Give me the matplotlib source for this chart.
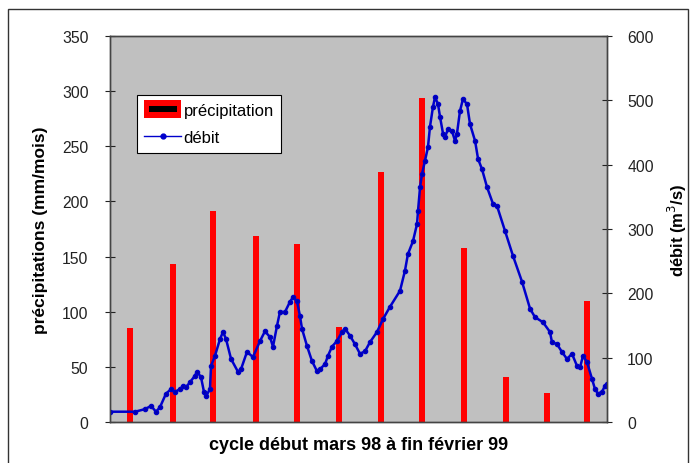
import matplotlib
matplotlib.use("Agg")
import matplotlib.pyplot as plt
from matplotlib.lines import Line2D
from matplotlib.patches import Rectangle
from matplotlib.legend_handler import HandlerBase

plt.rcParams['font.family'] = ['Liberation Sans', 'DejaVu Sans']

# monthly precipitation (mm/mois), bars at mid-month (day index)
month_days = [15, 46, 76, 107, 137, 168, 199, 229, 260, 291, 321, 350]
precip = [85, 143, 191, 169, 161, 86, 227, 294, 158, 41, 26, 110]

# discharge (m3/s)
debit_days = [0, 18.4, 25.7, 30.1, 33.8, 36.7, 41.1, 44.8, 47.7, 51.4, 53.6, 55.8,
              58.8, 62.4, 63.9, 66.8, 69.0, 70.5, 73.4, 74.2, 77.1, 80.8, 83.0,
              85.2, 88.9, 94.0, 96.2, 100.6, 105.0, 110.2, 113.8, 117.5, 119.7,
              122.6, 124.8, 128.5, 132.2, 134.4, 137.3, 139.5, 141.0, 144.7,
              148.3, 152.0, 154.2, 157.9, 160.1, 163.0, 166.7, 170.4, 172.6,
              176.3, 179.9, 183.6, 187.3, 190.9, 196.1, 200.5, 205.6, 213.0,
              216.6, 218.8, 222.5, 225.5, 226.2, 227.7, 229.1, 231.3, 233.5,
              235.0, 237.2, 238.7, 240.9, 242.4, 244.6, 246.0, 248.2, 251.2,
              253.4, 254.8, 257.0, 259.2, 262.2, 264.4, 268.1, 270.3, 273.2,
              276.9, 281.3, 284.2, 290.1, 296.0, 302.6, 308.5, 312.1, 318.0,
              323.1, 324.6, 328.3, 331.9, 335.6, 339.3, 343.0, 345.2, 347.4,
              350.3, 354.0, 356.2, 358.4, 361.3, 363.5, 365]
debit = [16, 16, 20, 25, 16, 23, 44, 51, 47, 51, 56, 54,
         62, 72, 78, 70, 47, 40, 51, 87, 103, 129, 140,
         129, 98, 78, 82, 109, 101, 126, 141, 132, 117,
         149, 171, 171, 187, 194, 188, 165, 145, 118,
         95, 79, 82, 90, 103, 117, 126, 140, 145,
         134, 121, 106, 110, 124, 140, 160, 179, 204,
         235, 261, 281, 308, 328, 365, 385, 406, 427,
         459, 490, 505, 494, 474, 448, 443, 455, 452,
         437, 448, 483, 502, 494, 463, 437, 409, 393,
         365, 339, 336, 297, 258, 218, 176, 163, 155,
         140, 124, 121, 109, 98, 106, 87, 85, 103,
         93, 67, 51, 44, 47, 56, 59]


class PrecipHandler(HandlerBase):
    def create_artists(self, legend, orig_handle, xdescent, ydescent,
                       width, height, fontsize, trans):
        outer = Rectangle((-xdescent, -ydescent - 0.15 * height), width, height * 1.3,
                          facecolor='#ff0000', edgecolor='none', transform=trans)
        inner = Rectangle((-xdescent + 0.12 * width, -ydescent + 0.3 * height),
                          width * 0.76, height * 0.4,
                          facecolor='black', edgecolor='none', transform=trans)
        return [outer, inner]


fig = plt.figure(figsize=(6.92, 4.64), dpi=100)
fig.patch.set_facecolor('white')
fig.patches.append(Rectangle((8/692, -0.05), 680/692, 1.05 - 10/464,
                             transform=fig.transFigure, fill=False,
                             edgecolor='#333333', linewidth=1.0))

ax = fig.add_axes([110/692, 41/464, 497/692, 386/464])
ax.set_facecolor('#c0c0c0')
bars = ax.bar(month_days, precip, width=4.4, color='#ff0000', zorder=2)
ax.set_xlim(0, 365)
ax.set_ylim(0, 350)
ax.set_yticks(range(0, 351, 50))
ax.set_xticks([])
ax.tick_params(axis='y', direction='inout', length=7, pad=12, labelsize=11.3, colors='#222222')
ax.set_ylabel('précipitations (mm/mois)', fontsize=12.5, fontweight='bold', labelpad=10)
ax.set_xlabel('cycle début mars 98 à fin février 99', fontsize=13, fontweight='bold', labelpad=10)

ax2 = ax.twinx()
ax2.plot(debit_days, debit, color='#0000cc', linewidth=1.8, marker='o',
         markersize=3, markerfacecolor='#0000aa', markeredgecolor='#0000cc')
ax2.set_ylim(0, 600)
ax2.set_yticks(range(0, 601, 100))
ax2.tick_params(axis='y', direction='inout', length=7, pad=11, labelsize=11.3, colors='#222222')
ax2.set_ylabel('débit (m$^3$/s)', fontsize=12, fontweight='bold', labelpad=9)

for a in (ax, ax2):
    for s in a.spines.values():
        s.set_color('#444444')
        s.set_linewidth(1.0)

h_precip = Rectangle((0, 0), 1, 1)
h_debit = Line2D([], [], color='#0000cc', linewidth=1, marker='o', markersize=3.5)
leg = ax2.legend([h_precip, h_debit], ['précipitation', 'débit'],
                 handler_map={Rectangle: PrecipHandler()},
                 loc='upper left', bbox_to_anchor=(0.054, 0.848),
                 fontsize=12, frameon=True, fancybox=False, framealpha=1,
                 edgecolor='black', handlelength=2.2, handleheight=0.9,
                 handletextpad=0.15, borderpad=0.45, labelspacing=0.7,
                 borderaxespad=0)
leg.get_frame().set_linewidth(0.8)

fig.savefig('out.png', dpi=100)
